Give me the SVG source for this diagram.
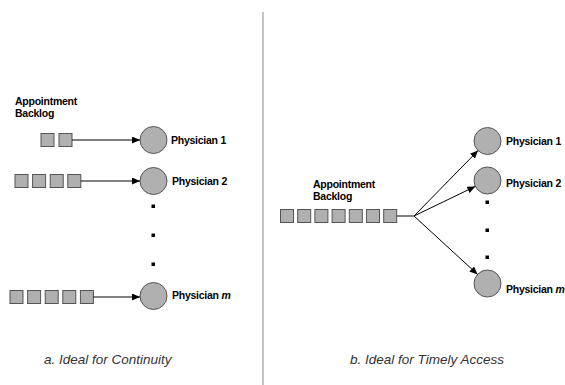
<svg xmlns="http://www.w3.org/2000/svg" width="565" height="385" viewBox="0 0 565 385">
<style>
.bg{fill:#fff}
.q{fill:#b0b0b0;stroke:#555;stroke-width:1}
.c{fill:#b0b0b0;stroke:#555;stroke-width:1}
.lbl{font-family:"Liberation Sans",Arial,sans-serif;font-weight:bold;font-size:10.5px;letter-spacing:-0.25px;fill:#000}
.cap{font-family:"Liberation Sans",Arial,sans-serif;font-style:italic;font-size:13.5px;fill:#333}
.con{stroke:#000;stroke-width:1;fill:none}
.dot{fill:#000}
</style>
<defs>
<marker id="ah" markerUnits="userSpaceOnUse" markerWidth="8" markerHeight="7" refX="8" refY="3.5" orient="auto">
<path d="M0,0 L8,3.5 L0,7 z" fill="#000"/>
</marker>
</defs>
<rect class="bg" x="0" y="0" width="565" height="385"/>
<line x1="263" y1="12" x2="263" y2="385" stroke="#888" stroke-width="1"/>

<g id="left-backlog-label"><text class="lbl" x="15" y="105">Appointment</text><text class="lbl" x="15" y="117">Backlog</text></g>

<g id="left-queue-1">
<rect class="q" x="41" y="133.5" width="13" height="13"/>
<rect class="q" x="59" y="133.5" width="13" height="13"/>
</g>
<g id="left-queue-2">
<rect class="q" x="15" y="174.5" width="13" height="13"/>
<rect class="q" x="32.6" y="174.5" width="13" height="13"/>
<rect class="q" x="50.2" y="174.5" width="13" height="13"/>
<rect class="q" x="67.8" y="174.5" width="13" height="13"/>
</g>
<g id="left-queue-m">
<rect class="q" x="10" y="290.5" width="13" height="13"/>
<rect class="q" x="27.6" y="290.5" width="13" height="13"/>
<rect class="q" x="45.2" y="290.5" width="13" height="13"/>
<rect class="q" x="62.8" y="290.5" width="13" height="13"/>
<rect class="q" x="80.4" y="290.5" width="13" height="13"/>
</g>

<g id="left-physician-1"><circle class="c" cx="153.5" cy="140" r="13.5"/><text class="lbl" x="171" y="144">Physician 1</text></g>
<g id="left-physician-2"><circle class="c" cx="153.5" cy="181" r="13.5"/><text class="lbl" x="172" y="185">Physician 2</text></g>
<g id="left-physician-m"><circle class="c" cx="153.5" cy="296" r="13.5"/><text class="lbl" x="172" y="299">Physician <tspan font-style="italic">m</tspan></text></g>
<g id="left-dots">
<rect class="dot" x="151.5" y="204.5" width="3.5" height="3.5"/>
<rect class="dot" x="151.5" y="233.5" width="3.5" height="3.5"/>
<rect class="dot" x="151.5" y="262.5" width="3.5" height="3.5"/>
</g>

<g id="right-backlog-label"><text class="lbl" x="313" y="188">Appointment</text><text class="lbl" x="313" y="200">Backlog</text></g>
<g id="right-queue">
<rect class="q" x="280.5" y="209.5" width="13" height="13"/>
<rect class="q" x="297.7" y="209.5" width="13" height="13"/>
<rect class="q" x="314.9" y="209.5" width="13" height="13"/>
<rect class="q" x="332.1" y="209.5" width="13" height="13"/>
<rect class="q" x="349.3" y="209.5" width="13" height="13"/>
<rect class="q" x="366.5" y="209.5" width="13" height="13"/>
<rect class="q" x="383.7" y="209.5" width="13" height="13"/>
</g>
<g id="right-physician-1"><circle class="c" cx="487.5" cy="141" r="13.5"/><text class="lbl" x="506" y="145">Physician 1</text></g>
<g id="right-physician-2"><circle class="c" cx="487.5" cy="180.5" r="13.5"/><text class="lbl" x="506" y="187">Physician 2</text></g>
<g id="right-physician-m"><circle class="c" cx="487.5" cy="283.5" r="13.5"/><text class="lbl" x="506" y="293">Physician <tspan font-style="italic">m</tspan></text></g>
<g id="right-dots">
<rect class="dot" x="485.5" y="200.5" width="3.5" height="3.5"/>
<rect class="dot" x="485.5" y="228.5" width="3.5" height="3.5"/>
<rect class="dot" x="485.5" y="255.5" width="3.5" height="3.5"/>
</g>

<g id="connectors">
<line class="con" x1="72" y1="140" x2="140" y2="140" marker-end="url(#ah)"/>
<line class="con" x1="80.8" y1="181" x2="140" y2="181" marker-end="url(#ah)"/>
<line class="con" x1="93.4" y1="297" x2="140" y2="297" marker-end="url(#ah)"/>
<line class="con" x1="396.7" y1="216" x2="414" y2="216"/>
<line class="con" x1="414" y1="216" x2="478" y2="150.6" marker-end="url(#ah)"/>
<line class="con" x1="414" y1="216" x2="475.3" y2="186.4" marker-end="url(#ah)"/>
<line class="con" x1="414" y1="216" x2="477.6" y2="274.4" marker-end="url(#ah)"/>
</g>

<text class="cap" x="44" y="364">a. Ideal for Continuity</text>
<text class="cap" x="350" y="364">b. Ideal for Timely Access</text>
</svg>
